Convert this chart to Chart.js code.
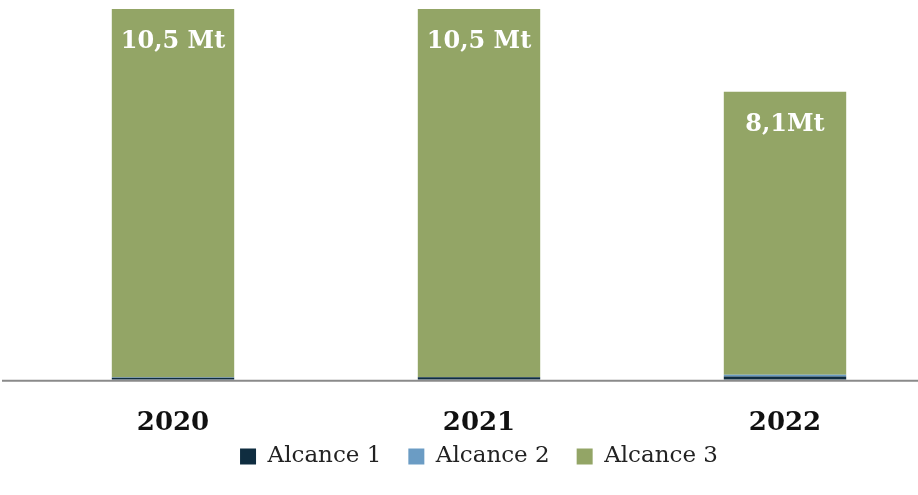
<!DOCTYPE html>
<html>
<head>
<meta charset="utf-8">
<script src="https://cdn.jsdelivr.net/npm/chart.js@4"></script>
<style>
  html, body { margin: 0; padding: 0; background: #fff; overflow: hidden; }
  #wrap { position: relative; width: 940px; height: 495px; }
</style>
</head>
<body>
<div id="wrap"><canvas id="chart"></canvas></div>
<script>
// Data
const years = ["2020", "2021", "2022"];
const alcance1 = [0.06, 0.07, 0.09];
const alcance2 = [0.01, 0.01, 0.05];
const alcance3 = [10.43, 10.42, 8.02];
const totalLabels = ["10,5 Mt", "10,5 Mt", "8,1Mt"];

const serif = "'DejaVu Serif', 'Liberation Serif', serif";

// Baseline line across the whole width, at the zero of the y scale
const baseLine = {
  id: "baseLine",
  afterDatasetsDraw(chart) {
    const ctx = chart.ctx;
    const y = chart.scales.y.getPixelForValue(0);
    ctx.save();
    ctx.strokeStyle = "#8a8a8a";
    ctx.lineWidth = 2;
    ctx.beginPath();
    ctx.moveTo(2, y + 1);
    ctx.lineTo(chart.width, y + 1);
    ctx.stroke();
    ctx.restore();
  }
};

// Total labels written inside the top of each stacked bar
const totalText = {
  id: "totalText",
  afterDatasetsDraw(chart) {
    const ctx = chart.ctx;
    const meta = chart.getDatasetMeta(2);
    ctx.save();
    ctx.fillStyle = "#ffffff";
    ctx.font = "bold 24px " + serif;
    ctx.textAlign = "center";
    ctx.textBaseline = "middle";
    meta.data.forEach(function (bar, i) {
      ctx.fillText(totalLabels[i], bar.x, bar.y + 33);
    });
    ctx.restore();
  }
};

// Legend keeps wide item spacing but sits close under the year labels
const legendTweak = {
  id: "legendTweak",
  beforeInit(chart) {
    const fit = chart.legend.fit;
    chart.legend.fit = function () {
      fit.bind(chart.legend)();
      this.height -= 28;
    };
  },
  afterLayout(chart) {
    chart.legend.top -= 41;
  }
};

new Chart(document.getElementById("chart"), {
  type: "bar",
  data: {
    labels: years,
    datasets: [
      { label: "Alcance 1", data: alcance1, backgroundColor: "#0f2d40" },
      { label: "Alcance 2", data: alcance2, backgroundColor: "#6b9cc4" },
      { label: "Alcance 3", data: alcance3, backgroundColor: "#93a566" }
    ]
  },
  options: {
    responsive: true,
    maintainAspectRatio: false,
    animation: false,
    layout: { padding: { left: 20, right: 2, top: 2, bottom: 4 } },
    datasets: {
      bar: { barPercentage: 1, categoryPercentage: 0.4, borderWidth: 0 }
    },
    scales: {
      x: {
        stacked: true,
        grid: { display: false },
        border: { display: false },
        ticks: {
          color: "#111",
          padding: 20,
          font: { family: serif, size: 26, weight: "bold" }
        }
      },
      y: {
        stacked: true,
        display: false,
        min: 0,
        max: 10.7
      }
    },
    plugins: {
      legend: {
        position: "bottom",
        labels: {
          color: "#222",
          boxWidth: 16,
          boxHeight: 16,
          padding: 27,
          font: { family: serif, size: 23 }
        }
      },
      tooltip: { enabled: false }
    }
  },
  plugins: [baseLine, totalText, legendTweak]
});
</script>
</body>
</html>
